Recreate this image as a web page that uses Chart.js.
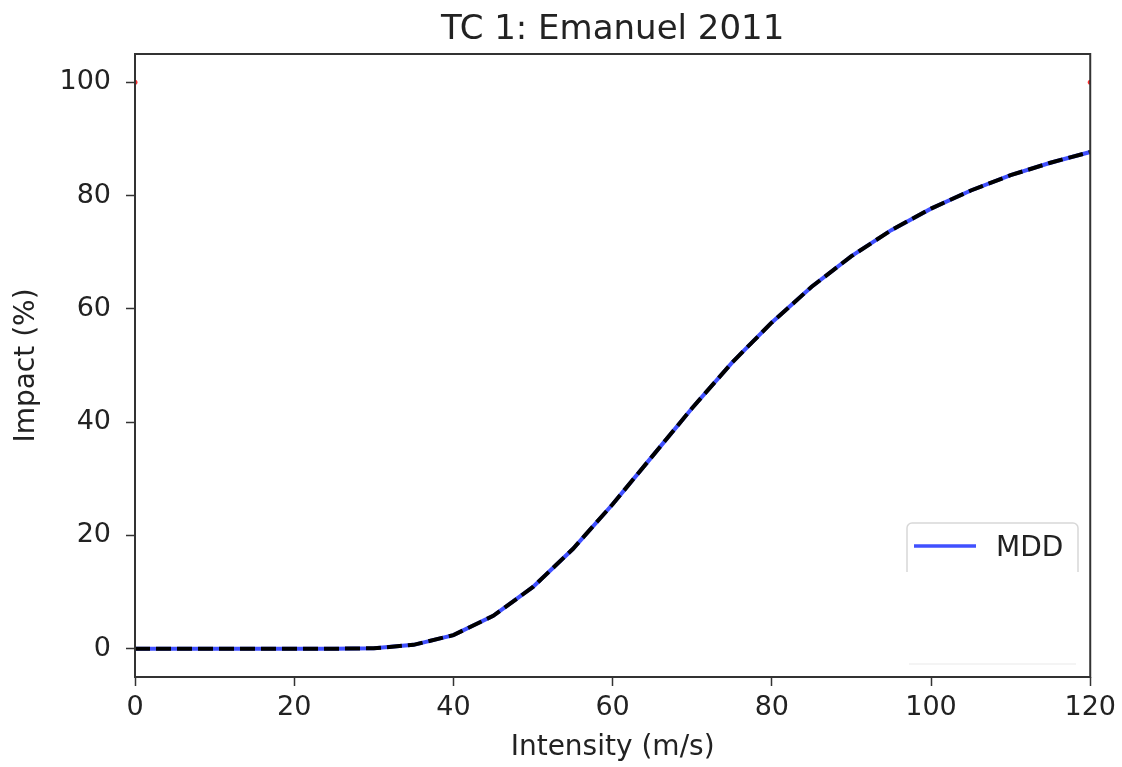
<!DOCTYPE html>
<html><head><meta charset="utf-8">
<script src="https://cdn.jsdelivr.net/npm/chart.js@4"></script>
<style>html,body{margin:0;padding:0;background:#fff}#wrap{width:1122px;height:767px}</style>
</head><body><div id="wrap"><canvas id="c" width="1122" height="767"></canvas></div>
<script>
const intensity = [0,5,10,15,20,25,30,35,40,45,50,55,60,65,70,75,80,85,90,95,100,105,110,115,120];
const mdd = [0,0,0,0,0,0,0.07,0.68,2.4,5.8,10.9,17.6,25.5,34.0,42.5,50.5,57.6,63.9,69.3,73.9,77.7,80.9,83.6,85.8,87.7];
const paaEnds = [[0,100],[120,100]];
const xTicks = [0,20,40,60,80,100,120];
const yTicks = [0,20,40,60,80,100];
const titleText = 'TC 1: Emanuel 2011';
const xLabel = 'Intensity (m/s)';
const yLabel = 'Impact (%)';
const FONT = "'DejaVu Sans', sans-serif";

const pts = intensity.map((x,i)=>({x, y: mdd[i]}));

const framePlugin = {
  id:'frame',
  afterDraw(chart){
    const {ctx, chartArea:a} = chart;
    ctx.save();
    ctx.strokeStyle = '#333';
    ctx.lineWidth = 2;
    ctx.strokeRect(a.left, a.top, a.right-a.left, a.bottom-a.top);
    // title
    ctx.fillStyle = '#222';
    ctx.font = '34px ' + FONT;
    ctx.textAlign = 'center';
    ctx.textBaseline = 'alphabetic';
    ctx.fillText(titleText, (a.left+a.right)/2, 39);
    // legend (partially visible box)
    const lx = 907, ly = 523, lw = 171;
    ctx.strokeStyle = '#d8d8d8';
    ctx.lineWidth = 1.5;
    ctx.beginPath();
    ctx.moveTo(lx, ly+49);
    ctx.lineTo(lx, ly+5);
    ctx.arcTo(lx, ly, lx+5, ly, 5);
    ctx.lineTo(lx+lw-5, ly);
    ctx.arcTo(lx+lw, ly, lx+lw, ly+5, 5);
    ctx.lineTo(lx+lw, ly+49);
    ctx.stroke();
    ctx.strokeStyle = '#f0f0f0';
    ctx.beginPath();
    ctx.moveTo(lx+2, 664); ctx.lineTo(lx+lw-2, 664); ctx.stroke();
    const ds = chart.data.datasets[0];
    ctx.strokeStyle = ds.borderColor;
    ctx.lineWidth = 3.5;
    ctx.beginPath(); ctx.moveTo(914, 546); ctx.lineTo(976, 546); ctx.stroke();
    ctx.fillStyle = '#222';
    ctx.font = '28px ' + FONT;
    ctx.textAlign = 'left';
    ctx.textBaseline = 'middle';
    ctx.fillText(ds.label, 996, 549);
    ctx.restore();
  }
};

new Chart(document.getElementById('c'), {
  type: 'line',
  data: {
    datasets: [
      {label:'MDD', data: pts, borderColor:'#4050ff', borderWidth:4, pointRadius:0, tension:0, order:2},
      {label:'MDR', data: pts, borderColor:'#000', borderWidth:4, borderDash:[15,6], pointRadius:0, tension:0, order:1},
      {label:'PAA', data: paaEnds.map(p=>({x:p[0],y:p[1]})), showLine:false, pointRadius:2.5, pointBackgroundColor:'#ff3030', pointBorderWidth:0, order:0}
    ]
  },
  options: {
    responsive:false, animation:false,
    layout:{padding:{left:0,right:31,top:54,bottom:0}},
    plugins:{legend:{display:false}, title:{display:false}, tooltip:{enabled:false}},
    scales:{
      x:{type:'linear', min:0, max:120,
        afterBuildTicks(s){ s.ticks = xTicks.map(v=>({value:v})); },
        afterFit(s){ s.height = 90; },
        grid:{drawOnChartArea:false, tickLength:9, color:'#333', tickWidth:1.5},
        border:{display:false},
        ticks:{color:'#222', font:{family:FONT, size:27}, padding:6, maxRotation:0},
        title:{display:true, text:xLabel, color:'#222', font:{family:FONT, size:28}, padding:{top:0,bottom:2}}
      },
      y:{type:'linear', min:-5, max:105,
        afterBuildTicks(s){ s.ticks = yTicks.map(v=>({value:v})); },
        afterFit(s){ s.width = 135; },
        grid:{drawOnChartArea:false, tickLength:9, color:'#333', tickWidth:1.5},
        border:{display:false},
        ticks:{color:'#222', font:{family:FONT, size:27}, padding:15},
        title:{display:true, text:yLabel, color:'#222', font:{family:FONT, size:28}, padding:{top:10,bottom:0}}
      }
    }
  },
  plugins:[framePlugin]
});
</script></body></html>
